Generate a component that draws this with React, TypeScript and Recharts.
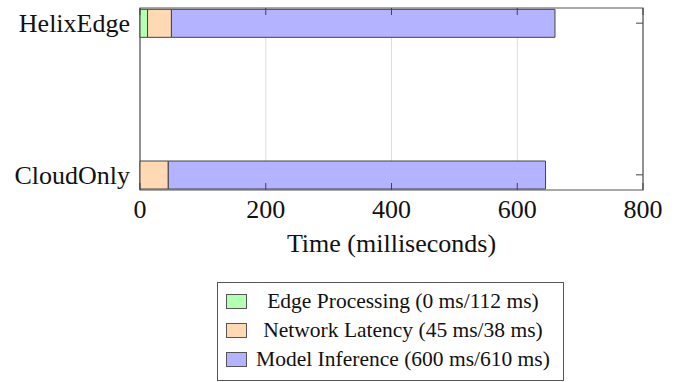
import React from 'react';
import {
  Bar,
  BarChart,
  CartesianGrid,
  ReferenceArea,
  XAxis,
  YAxis,
} from 'recharts';

const SYSTEMS = ['HelixEdge', 'CloudOnly'];
// y positions on the (top-down) category axis
const POSITIONS = [0, 1];
const EDGE_MS = [12, 0];
const NETWORK_MS = [38, 45];
const INFERENCE_MS = [610, 600];
const X_TICKS = [0, 200, 400, 600, 800];
const LEGEND_LABELS = [
  'Edge Processing (0 ms/112 ms)',
  'Network Latency (45 ms/38 ms)',
  'Model Inference (600 ms/610 ms)',
];

const FILLS = ['#b3ffb3', '#ffd9b3', '#b3b3ff'];
const FONT = "'Liberation Serif', 'Times New Roman', serif";

const data = SYSTEMS.map((name, i) => ({
  name,
  pos: POSITIONS[i],
  edge: EDGE_MS[i],
  network: NETWORK_MS[i],
  inference: INFERENCE_MS[i],
}));

const PLOT_LEFT = 140;
const PLOT_RIGHT = 643;
const PLOT_TOP = 8;
const PLOT_BOTTOM = 190;
const TICK_LEN = 7;

function XTick(props: any) {
  const { x, y, payload } = props;
  return (
    <g>
      <line x1={x} x2={x} y1={PLOT_BOTTOM} y2={PLOT_BOTTOM - TICK_LEN} stroke="#444" />
      <line x1={x} x2={x} y1={PLOT_TOP} y2={PLOT_TOP + TICK_LEN} stroke="#444" />
      <text x={x} y={y} dy="0.71em" textAnchor="middle" fill="#111" fontSize={26} fontFamily={FONT}>
        {payload.value}
      </text>
    </g>
  );
}

function YTick(props: any) {
  const { x, y, payload } = props;
  const idx = POSITIONS.indexOf(payload.value);
  return (
    <g>
      <line x1={PLOT_RIGHT - TICK_LEN} x2={PLOT_RIGHT} y1={y} y2={y} stroke="#444" />
      <text x={x} y={y} dy="0.35em" textAnchor="end" fill="#111" fontSize={26} fontFamily={FONT}>
        {SYSTEMS[idx]}
      </text>
    </g>
  );
}

function AxisTitle(props: any) {
  const { viewBox } = props;
  const cx = viewBox.x + viewBox.width / 2;
  return (
    <text x={cx} y={243} dy="0.35em" textAnchor="middle" fill="#111" fontSize={26} fontFamily={FONT}>
      Time (milliseconds)
    </text>
  );
}

function LegendBox() {
  return (
    <div
      style={{
        position: 'absolute',
        left: 217,
        top: 282,
        width: 345,
        height: 97,
        border: '1px solid #555',
        background: '#fff',
        fontFamily: FONT,
        fontSize: 21.5,
        color: '#111',
      }}
    >
      {LEGEND_LABELS.map((label, i) => (
        <div
          key={label}
          style={{
            position: 'absolute',
            left: 0,
            top: 4 + i * 29,
            height: 29,
            width: 345,
            display: 'flex',
            alignItems: 'center',
          }}
        >
          <div
            style={{
              marginLeft: 8,
              width: 19,
              height: 13,
              background: FILLS[i],
              border: '1px solid #555',
            }}
          />
          <div style={{ flex: 1, textAlign: 'center', whiteSpace: 'nowrap', marginRight: 4 }}>
            {label}
          </div>
        </div>
      ))}
    </div>
  );
}

export default function App() {
  return (
    <div
      style={{
        position: 'absolute',
        left: 0,
        top: 0,
        width: 690,
        height: 382,
        background: '#fff',
        fontFamily: FONT,
      }}
    >
      <BarChart
        width={690}
        height={382}
        data={data}
        layout="vertical"
        margin={{ top: PLOT_TOP, right: 690 - PLOT_RIGHT, left: 0, bottom: 382 - PLOT_BOTTOM - 70 }}
      >
        <CartesianGrid horizontal={false} stroke="#dcdcdc" />
        <XAxis
          type="number"
          domain={[0, 800]}
          ticks={X_TICKS}
          axisLine={false}
          tickLine={false}
          tickMargin={4}
          height={70}
          tick={<XTick />}
          label={<AxisTitle />}
        />
        <YAxis
          type="number"
          dataKey="pos"
          domain={[-0.1, 1.1]}
          ticks={POSITIONS}
          width={PLOT_LEFT}
          axisLine={false}
          tickLine={false}
          tickMargin={4}
          tick={<YTick />}
        />
        <Bar dataKey="edge" stackId="a" fill={FILLS[0]} stroke="#444" barSize={28} isAnimationActive={false} />
        <Bar dataKey="network" stackId="a" fill={FILLS[1]} stroke="#444" barSize={28} isAnimationActive={false} />
        <Bar dataKey="inference" stackId="a" fill={FILLS[2]} stroke="#444" barSize={28} isAnimationActive={false} />
        <ReferenceArea x1={0} x2={800} y1={-0.1} y2={1.1} fill="none" fillOpacity={0} stroke="#555" strokeWidth={1.2} />
      </BarChart>
      <LegendBox />
    </div>
  );
}
